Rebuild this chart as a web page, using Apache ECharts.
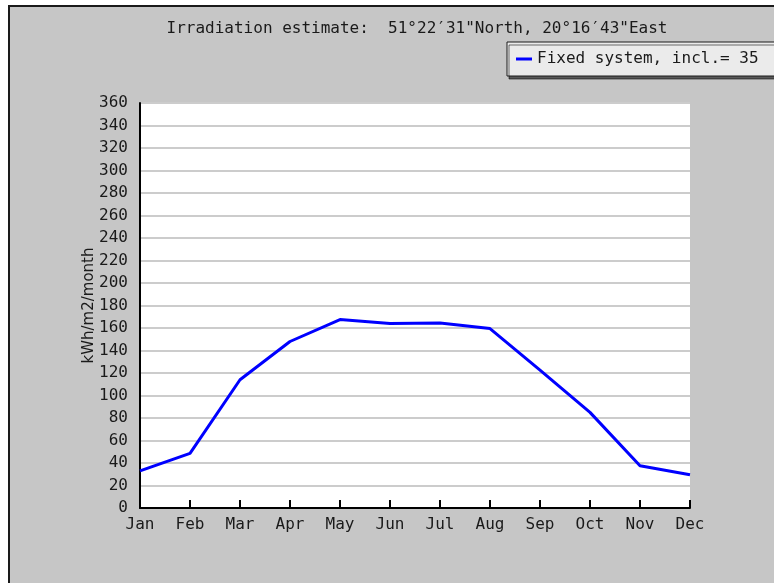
<!DOCTYPE html>
<html>
<head>
<meta charset="utf-8">
<script src="https://cdn.jsdelivr.net/npm/echarts@6/dist/echarts.min.js"></script>
<style>
  html, body { margin: 0; padding: 0; background: #fff; }
  #chart { width: 774px; height: 583px; }
</style>
</head>
<body>
<div id="chart"></div>
<script>
var months = ['Jan', 'Feb', 'Mar', 'Apr', 'May', 'Jun', 'Jul', 'Aug', 'Sep', 'Oct', 'Nov', 'Dec'];
var fixedSystem = [33, 48.5, 114, 148, 167.5, 164, 164.5, 159.5, 122.5, 85, 37.5, 29.5];
var yTicks = { min: 0, max: 360, interval: 20 };

var mono = '"DejaVu Sans Mono", "Liberation Mono", monospace';
var chart = echarts.init(document.getElementById('chart'));

var option = {
    animation: false,
    backgroundColor: '#fff',
    graphic: [{
        type: 'rect',
        z: -10,
        shape: { x: 9, y: 6, width: 800, height: 600 },
        style: { fill: '#c6c6c6', stroke: '#1a1a1a', lineWidth: 2 }
    }],
    title: {
        text: 'Irradiation estimate:  51\u00b022\u203231"North, 20\u00b016\u203243"East',
        left: 412,
        textAlign: 'center',
        top: 16,
        textStyle: { fontFamily: mono, fontSize: 16, fontWeight: 'normal', color: '#1a1a1a' }
    },
    legend: {
        left: 507,
        top: 42,
        padding: [9, 30, 9, 9],
        backgroundColor: '#ebebeb',
        borderColor: '#1a1a1a',
        borderWidth: 1,
        shadowColor: 'rgba(0,0,0,0.55)',
        shadowOffsetY: 3,
        shadowOffsetX: 2,
        shadowBlur: 0,
        itemWidth: 16,
        itemHeight: 3,
        itemGap: 4,
        icon: 'rect',
        textStyle: { fontFamily: mono, fontSize: 16, color: '#1a1a1a' },
        data: ['Fixed system, incl.= 35']
    },
    grid: {
        left: 140,
        right: 84,
        top: 103,
        bottom: 75,
        show: true,
        backgroundColor: '#fff',
        borderWidth: 0
    },
    xAxis: {
        type: 'category',
        data: months,
        boundaryGap: false,
        axisLine: { lineStyle: { color: '#000', width: 2 } },
        axisTick: { inside: true, length: 8, lineStyle: { color: '#000', width: 2 } },
        axisLabel: { margin: 9, fontFamily: mono, fontSize: 16, color: '#1a1a1a' },
        splitLine: { show: false }
    },
    yAxis: {
        type: 'value',
        min: yTicks.min,
        max: yTicks.max,
        interval: yTicks.interval,
        name: 'kWh/m2/month',
        nameLocation: 'middle',
        nameGap: 43,
        nameMoveOverlap: false,
        nameTextStyle: { fontFamily: '"DejaVu Sans", sans-serif', fontSize: 15, color: '#1a1a1a' },
        axisLine: { show: true, lineStyle: { color: '#000', width: 2 } },
        axisTick: { inside: true, length: 8, lineStyle: { color: '#000', width: 2 } },
        axisLabel: { margin: 12, fontFamily: mono, fontSize: 16, color: '#1a1a1a' },
        splitLine: { show: true, lineStyle: { color: '#cccccc', width: 2 } }
    },
    series: [{
        name: 'Fixed system, incl.= 35',
        type: 'line',
        data: fixedSystem,
        showSymbol: false,
        symbol: 'none',
        color: '#0000ff',
        lineStyle: { color: '#0000ff', width: 3 }
    }]
};

chart.setOption(option);
</script>
</body>
</html>
